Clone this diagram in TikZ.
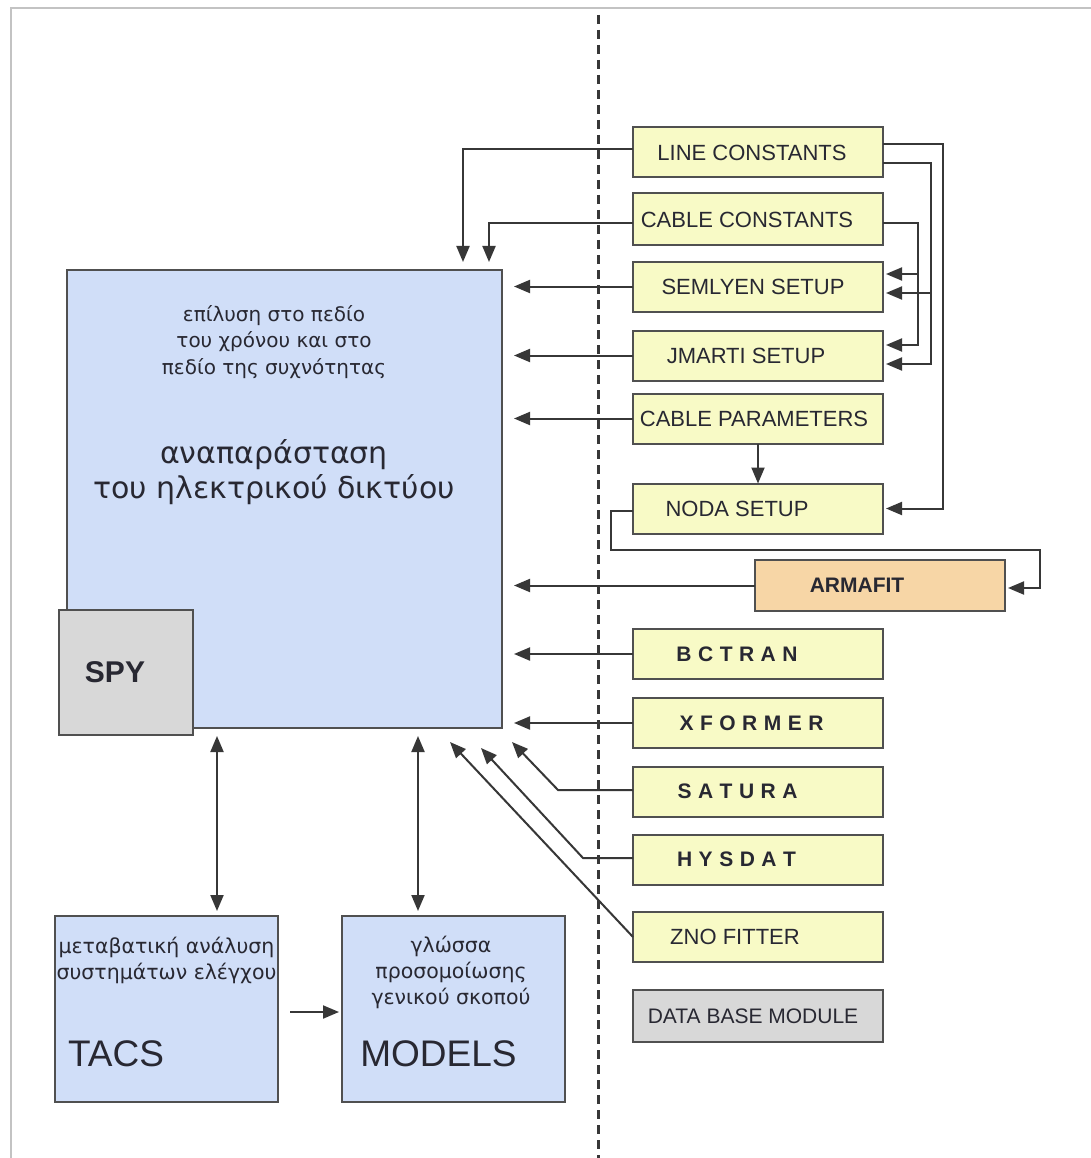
\documentclass[tikz,border=0pt]{standalone}
\usepackage{fontspec}
\setmainfont{Liberation Sans}
\newfontfamily\grk{DejaVu Sans}
\usetikzlibrary{arrows.meta}
\definecolor{blueF}{RGB}{208,222,248}
\definecolor{yelF}{RGB}{248,250,198}
\definecolor{peachF}{RGB}{247,214,166}
\definecolor{grayF}{RGB}{216,216,216}
\definecolor{bord}{RGB}{80,80,80}
\definecolor{lineC}{RGB}{55,55,55}
\definecolor{frameC}{RGB}{195,195,195}
\definecolor{txtC}{RGB}{40,40,50}
\newcommand\lsh[2]{#2\hspace*{#1}}
\newcommand\fsz[2]{\fontsize{#1}{#2}\selectfont}
\newcommand\ls{\kern6.5pt}
\begin{document}
\begin{tikzpicture}[x=1pt,y=-1pt,
  every node/.style={inner sep=0pt,outer sep=0pt,text=txtC},
  box/.style={draw=bord,line width=2pt},
  bbox/.style={box,fill=blueF},
  gbox/.style={box,fill=grayF},
  ybox/.style={box,fill=yelF,minimum width=250pt,minimum height=50pt,font=\fsz{22}{26}},
  sbox/.style={ybox,font=\bfseries\fsz{21}{26}},
  conn/.style={draw=lineC,line width=2pt},
  arr/.style={conn,-{Triangle[length=16pt,width=13pt]}},
  arrR/.style={arr,shorten >=3pt},
  darr/.style={conn,{Triangle[length=16pt,width=13pt]}-{Triangle[length=16pt,width=13pt]}},
]
\useasboundingbox (0,0) rectangle (1091,1158);
\fill[white] (0,0) rectangle (1091,1158);
\draw[frameC,line width=1.5pt] (11,1158) -- (11,8) -- (1091,8);
\draw[lineC,line width=3pt,dash pattern=on 9pt off 6pt] (598,15) -- (598,1158);

% main block
\node[bbox,minimum width=435pt,minimum height=458pt] (main) at (284.5,499) {};
\node[font=\grk\fsz{20}{26.5},align=center] (mainsub) at (274,342) {επίλυση στο πεδίο\\του χρόνου και στο\\πεδίο της συχνότητας};
\node[font=\grk\fsz{30}{35},align=center] (maintitle) at (274,472) {αναπαράσταση\\του ηλεκτρικού δικτύου};
\node[gbox,minimum width=134pt,minimum height=125pt] (spy) at (126,672.5) {};
\node[font=\bfseries\fsz{30}{30}] (spyt) at (115,672) {SPY};

% bottom blocks
\node[bbox,minimum width=223pt,minimum height=186pt] (tacs) at (166.5,1009) {};
\node[font=\grk\fsz{20.5}{26},align=center] (tacsd) at (166.5,960) {μεταβατική ανάλυση\\συστημάτων ελέγχου};
\node[font=\fsz{37}{37}] (tacsn) at (116,1054) {TACS};
\node[bbox,minimum width=223pt,minimum height=186pt] (models) at (453.5,1009) {};
\node[font=\grk\fsz{20.5}{26},align=center] (modelsd) at (451,972) {γλώσσα\\προσομοίωσης\\γενικού σκοπού};
\node[font=\fsz{37}{37}] (modelsn) at (438.5,1054) {MODELS};

% right column
\node[ybox] (lc) at (758,152.5) {\lsh{12pt}{LINE CONSTANTS}};
\node[ybox,minimum height=52pt] (cc) at (758,219.5) {\lsh{22pt}{CABLE CONSTANTS}};
\node[ybox] (sem) at (758,286.5) {\lsh{10pt}{SEMLYEN SETUP}};
\node[ybox] (jm) at (758,355.5) {\lsh{24pt}{JMARTI SETUP}};
\node[ybox] (cp) at (758,418.5) {\lsh{8pt}{CABLE PARAMETERS}};
\node[ybox] (noda) at (758,508.5) {\lsh{42pt}{NODA SETUP}};
\node[box,fill=peachF,minimum width=250pt,minimum height=51pt,font=\bfseries\fsz{21}{26}] (arma) at (880,585.5) {\lsh{46pt}{ARMAFIT}};
\node[sbox] (bct) at (758,654) {\lsh{42pt}{B\ls C\ls T\ls R\ls A\ls N}};
\node[sbox] (xf) at (758,723) {\lsh{13pt}{X\ls F\ls O\ls R\ls M\ls E\ls R}};
\node[sbox] (sat) at (758,791.5) {\lsh{41pt}{S\ls A\ls T\ls U\ls R\ls A}};
\node[sbox] (hys) at (758,859.5) {\lsh{43pt}{H\ls Y\ls S\ls D\ls A\ls T}};
\node[ybox] (zno) at (758,937) {\lsh{46pt}{ZNO FITTER}};
\node[ybox,fill=grayF,minimum height=52pt,font=\fsz{21}{26}] (db) at (758,1016) {\lsh{10pt}{DATA BASE MODULE}};

% helper coordinates
\coordinate (inx) at (514,0);
\coordinate (r1) at (943,0);
\coordinate (r2) at (931,0);
\coordinate (r3) at (918,0);
\coordinate (t1) at (463,262);
\coordinate (t2) at (489,262);
\coordinate (sb) at (558,790);
\coordinate (ts) at (512,742);
\coordinate (hb) at (583,858);
\coordinate (th) at (481,748);
\coordinate (tz) at (450,742);
\coordinate (nb) at (611,550);
\coordinate (ab) at (1040,588);

% connectors to main block
\draw[arr] (lc.west |- 0,149) -| (t1);
\draw[arr] (cc.west |- 0,223) -| (t2);
\draw[arr] (sem.west) -- (sem.west -| inx);
\draw[arr] (jm.west) -- (jm.west -| inx);
\draw[arr] (cp.west) -- (cp.west -| inx);
\draw[arr] (arma.west) -- (arma.west -| inx);
\draw[arr] (bct.west) -- (bct.west -| inx);
\draw[arr] (xf.west) -- (xf.west -| inx);
\draw[arr] (sat.west |- sb) -- (sb) -- (ts);
\draw[arr] (hys.west |- hb) -- (hb) -- (th);
\draw[arr] (zno.west) -- (tz);

% right-side feeds
\draw[arrR] (lc.east |- 0,144) -| (r1 |- noda.east) -- (noda.east);
\draw[arrR] (lc.east |- 0,163) -| (r2 |- 0,364) -- (jm.east |- 0,364);
\draw[arrR] (r2 |- 0,293) -- (sem.east |- 0,293);
\draw[arrR] (cc.east |- 0,223) -| (r3 |- 0,345) -- (jm.east |- 0,345);
\draw[arrR] (r3 |- 0,274) -- (sem.east |- 0,274);
\draw[arr] (cp.south) -- (noda.north);
\draw[arrR] (noda.west |- 0,511) -| (nb) -| (ab) -- (arma.east |- ab);

% bottom links
\draw[darr,shorten <=8pt,shorten >=5pt] (main.south -| 217,0) -- (tacs.north -| 217,0);
\draw[darr,shorten <=8pt,shorten >=5pt] (main.south -| 418,0) -- (models.north -| 418,0);
\draw[arr,shorten <=12pt,shorten >=3pt] (tacs.east |- 0,1012) -- (models.west |- 0,1012);
\end{tikzpicture}
\end{document}
